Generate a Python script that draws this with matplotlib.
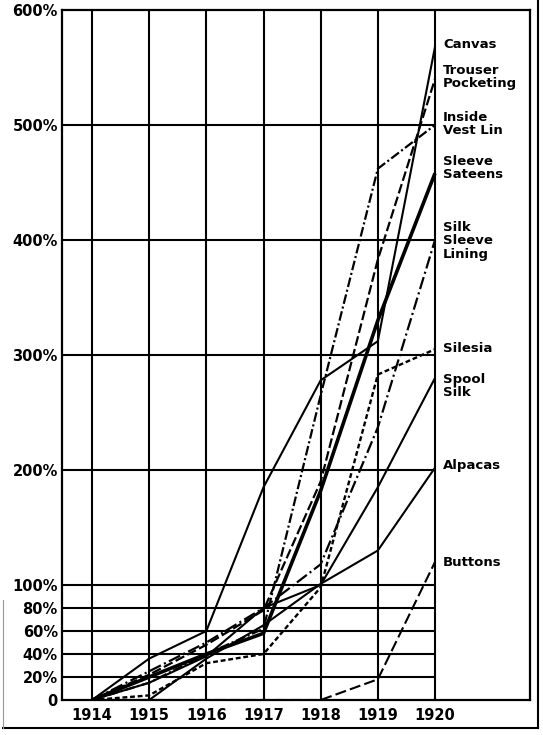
import matplotlib
matplotlib.use('Agg')
import matplotlib.pyplot as plt
from matplotlib.lines import Line2D
import numpy as np

plt.rcParams['lines.scale_dashes'] = False

years = [1914, 1915, 1916, 1917, 1918, 1919, 1920]
canvas = [0, 36, 60, 185, 278, 312, 568]
trouser_pocketing = [0, 22, 48, 78, 190, 383, 540]
inside_vest_lin = [0, 15, 40, 62, 265, 462, 500]
sleeve_sateens = [0, 20, 40, 58, 182, 330, 458]
silk_sleeve_lining = [0, 25, 50, 80, 118, 237, 400]
silesia = [0, 4, 32, 40, 98, 283, 305]
spool_silk = [0, 15, 38, 80, 100, 185, 280]
alpacas = [0, 0, 36, 65, 101, 130, 202]
buttons = [0, 0, 0, 0, 0, 18, 120]

y_ticks = [0, 20, 40, 60, 80, 100, 200, 300, 400, 500, 600]
y_tick_labels = ['0', '20%', '40%', '60%', '80%', '100%', '200%', '300%', '400%', '500%', '600%']
x_tick_labels = ['1914', '1915', '1916', '1917', '1918', '1919', '1920']

series_names = ['Canvas', 'Trouser\nPocketing', 'Inside\nVest Lin', 'Sleeve\nSateens',
                'Silk\nSleeve\nLining', 'Silesia', 'Spool\nSilk', 'Alpacas', 'Buttons']

W, H = 543, 735
fig = plt.figure(figsize=(W / 100, H / 100), dpi=100)
fig.patch.set_facecolor('white')

left, right, top, bottom = 62, 530, 10, 700
ax = fig.add_axes([left / W, 1 - bottom / H, (right - left) / W, (bottom - top) / H])
x0px, x1px = 92, 435
ppy = (x1px - x0px) / 6.0
ax.set_xlim(1914 - (x0px - left) / ppy, 1920 + (right - x1px) / ppy)
ax.set_ylim(0, 600)

grid_lw = 1.5
ax.vlines(years, 0, 600, colors='black', lw=grid_lw, zorder=1)
ax.hlines(y_ticks[1:-1], ax.get_xlim()[0], 1920, colors='black', lw=grid_lw, zorder=1)

styles = [
    dict(ls='-', lw=1.5),                                   # Canvas
    dict(ls=(0, (7, 2.5)), lw=1.6),                          # Trouser Pocketing
    dict(ls=(0, (7, 2, 1.5, 2)), lw=1.6),                    # Inside Vest Lin
    dict(ls='-', lw=2.6),                                   # Sleeve Sateens
    dict(ls=(0, (9, 2.5, 1.5, 2.5)), lw=1.6),                # Silk Sleeve Lining
    dict(ls=(0, (3.5, 2)), lw=1.7),                          # Silesia
    dict(ls='-', lw=1.5),                                   # Spool Silk
    dict(ls='-', lw=1.5),                                   # Alpacas
    dict(ls=(0, (8, 3)), lw=1.5),                            # Buttons
]
all_series = [canvas, trouser_pocketing, inside_vest_lin, sleeve_sateens,
              silk_sleeve_lining, silesia, spool_silk, alpacas, buttons]
for vals, st in zip(all_series, styles):
    ax.plot(years, vals, color='black', solid_capstyle='butt',
            dash_capstyle='butt', zorder=3, **st)

for s in ax.spines.values():
    s.set_linewidth(1.6)
    s.set_color('black')

tick_font = dict(family='DejaVu Sans', weight='bold', size=10.5)
ax.set_yticks(y_ticks)
ax.set_yticklabels(y_tick_labels, fontdict=tick_font)
ax.set_xticks(years)
ax.set_xticklabels(x_tick_labels, fontdict=tick_font)
ax.tick_params(axis='both', length=0)
ax.tick_params(axis='y', pad=3)
ax.tick_params(axis='x', pad=6)

# series labels in the right margin of the box
label_y_px = [44, 77, 124, 168, 241, 348, 386, 465, 563]
for name, ypx in zip(series_names, label_y_px):
    fig.text(443 / W, 1 - ypx / H, name, ha='left', va='center',
             fontsize=9.5, fontweight='heavy', family='DejaVu Sans',
             linespacing=1.05)

# page border lines of the scan
fig.add_artist(Line2D([538 / W, 538 / W], [1 - 728 / H, 1], transform=fig.transFigure,
                      color='black', lw=1.5))
fig.add_artist(Line2D([3 / W, 538 / W], [1 - 728 / H, 1 - 728 / H], transform=fig.transFigure,
                      color='black', lw=1.5))
fig.add_artist(Line2D([3 / W, 3 / W], [1 - 728 / H, 1 - 600 / H], transform=fig.transFigure,
                      color='#999999', lw=0.8))

fig.savefig('out.png', dpi=100, facecolor='white')
